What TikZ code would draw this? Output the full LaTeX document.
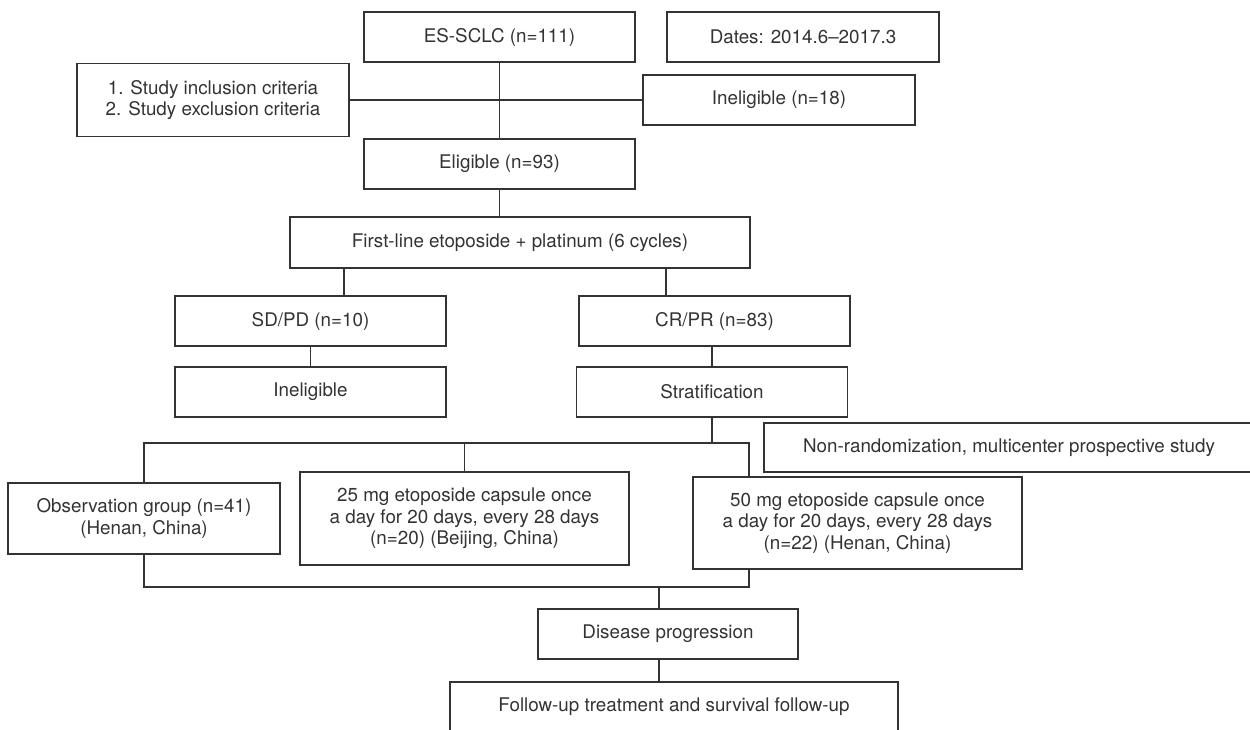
\documentclass[tikz,border=0pt]{standalone}
\usepackage{fontspec}
\setmainfont{TeX Gyre Heros}
\definecolor{ink}{HTML}{333333}
\begin{document}
\begin{tikzpicture}[x=1pt,y=-1pt,
    box/.style={draw=ink,text=ink,line width=1.2pt,inner sep=0pt,align=center,
      font=\fontsize{18.8}{21.6}\selectfont},
    link/.style={draw=ink,line width=1.2pt}]
  \clip (0,0) rectangle (1250,729);
  % screening
  \node[box,minimum width=271pt,minimum height=50pt] (es) at (499.5,37) {ES-SCLC (n=111)};
  \node[box,minimum width=272pt,minimum height=50pt] (dates) at (803,37) {Dates: 2014.6--2017.3};
  \node[box,minimum width=272pt,minimum height=73pt] (crit) at (213,100) {1. Study inclusion criteria\\2. Study exclusion criteria};
  \node[box,minimum width=272pt,minimum height=50pt] (inel1) at (779,100) {Ineligible (n=18)};
  \node[box,minimum width=271pt,minimum height=50pt] (elig) at (499.5,164) {Eligible (n=93)};
  \node[box,minimum width=460pt,minimum height=51pt] (first) at (520,242.5) {First-line etoposide + platinum (6 cycles)};
  % response
  \node[box,minimum width=271pt,minimum height=50pt] (sdpd) at (310.5,321) {SD/PD (n=10)};
  \node[box,minimum width=271pt,minimum height=50pt] (crpr) at (714.5,321) {CR/PR (n=83)};
  \node[box,minimum width=271pt,minimum height=50pt] (inel2) at (310.5,392) {Ineligible};
  \node[box,minimum width=271pt,minimum height=50pt] (strat) at (712,392) {Stratification};
  \node[box,minimum width=490pt,minimum height=49pt] (nonrand) at (1009,447.5) {Non-randomization, multicenter prospective study};
  % groups
  \node[box,minimum width=272pt,minimum height=71pt] (obs) at (144,518.5) {Observation group (n=41)\\(Henan, China)};
  \node[box,minimum width=329pt,minimum height=93pt] (dose25) at (464.5,518.5) {25 mg etoposide capsule once\\a day for 20 days, every 28 days\\(n=20) (Beijing, China)};
  \node[box,minimum width=329pt,minimum height=92pt] (dose50) at (857.5,523) {50 mg etoposide capsule once\\a day for 20 days, every 28 days\\(n=22) (Henan, China)};
  \node[box,minimum width=260pt,minimum height=50pt] (prog) at (668,634) {Disease progression};
  \node[box,minimum width=448pt,minimum height=50pt] (follow) at (674,707) {Follow-up treatment and survival follow-up};
  % junctions
  \coordinate (lsd) at (344,0);
  \coordinate (lcr) at (666,0);
  \coordinate (r50) at (749,0);
  \coordinate (top) at (0,443);
  \coordinate (bot) at (0,587);
  \coordinate (mid) at (659,0);
  % connectors
  \draw[link] (es.south) -- (elig.north);
  \draw[link] (crit.east) -- (inel1.west);
  \draw[link] (elig.south) -- (elig.south |- first.north);
  \draw[link] (lsd |- first.south) -- (lsd |- sdpd.north);
  \draw[link] (lcr |- first.south) -- (lcr |- crpr.north);
  \draw[link] (sdpd) -- (inel2);
  \draw[link] (strat.north) -- (strat.north |- crpr.south);
  \draw[link] (strat.south) -- (strat.south |- top);
  \draw[link] (obs.north) -- (obs.north |- top) -- (r50 |- top) -- (r50 |- dose50.north);
  \draw[link] (dose25.north) -- (dose25.north |- top);
  \draw[link] (obs.south) -- (obs.south |- bot) -- (r50 |- bot) -- (r50 |- dose50.south);
  \draw[link] (mid |- bot) -- (mid |- prog.north);
  \draw[link] (mid |- prog.south) -- (mid |- follow.north);
\end{tikzpicture}
\end{document}
